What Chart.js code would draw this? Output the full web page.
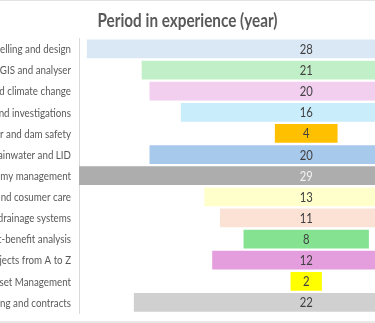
<!DOCTYPE html>
<html>
<head>
<meta charset="utf-8">
<script src="https://cdn.jsdelivr.net/npm/chart.js@4"></script>
<style>
html,body{margin:0;padding:0;background:#fff;overflow:hidden;}
#wrap{width:375px;height:320px;border-top:1px solid #e3e3e3;border-bottom:2px solid #e8e8e8;position:relative;}
canvas{display:block;}
</style>
</head>
<body>
<div id="wrap"><canvas id="c" width="375" height="320"></canvas></div>
<script>
const titleText = 'Period in experience (year)';
const categories = [
  "elling and design",
  "GIS and analyser",
  "d climate change",
  "nd investigations",
  "r and dam safety",
  "ainwater and LID",
  "my management",
  "nd cosumer care",
  "drainage systems",
  "t-benefit analysis",
  "ojects from A to Z",
  "set Management",
  "ing and contracts"
];
const years = [28, 21, 20, 16, 4, 20, 29, 13, 11, 8, 12, 2, 22];
const barColors = ["#DAE8F6","#C1F0C8","#F2CEEF","#CAEDFB","#FFC000","#A6C9EC","#ADADAD","#FFFFCC","#FBE2D5","#84E291","#E49EDD","#FFFF00","#D0D0D0"];
const labelColors = years.map((v,i)=> i===6 ? "#F2F2F2" : "#404040");

const FONT = 'Lato, "Open Sans", "Liberation Sans", Arial, sans-serif';

const narrowText = {
  id: 'narrowText',
  afterDraw(chart) {
    const ctx = chart.ctx;
    const ys = chart.scales.y;
    const xs = chart.scales.x;
    const area = chart.chartArea;
    ctx.save();
    // title
    ctx.font = 'bold 18px ' + FONT;
    ctx.fillStyle = '#595959';
    ctx.textBaseline = 'alphabetic';
    ctx.textAlign = 'center';
    const tw = ctx.measureText(titleText).width;
    const ts = 180 / tw;
    ctx.save();
    ctx.translate(187.5, 26);
    ctx.scale(ts, 1);
    ctx.fillText(titleText, 0, 0);
    ctx.restore();
    // category labels
    ctx.font = '11.5px ' + FONT;
    ctx.fillStyle = '#595959';
    ctx.textAlign = 'right';
    ctx.textBaseline = 'middle';
    const ref = ctx.measureText(categories[0]).width;
    const s = 71 / ref;
    categories.forEach((c, i) => {
      const y = ys.getPixelForTick(i);
      ctx.save();
      ctx.translate(area.left - 8, y + 0.5);
      ctx.scale(s, 1);
      ctx.fillText(c, 0, 0);
      ctx.restore();
    });
    // value labels
    const meta = chart.getDatasetMeta(0);
    const cx = xs.getPixelForValue(0);
    ctx.font = '12.5px ' + FONT;
    ctx.textAlign = 'center';
    meta.data.forEach((bar, i) => {
      ctx.fillStyle = labelColors[i];
      ctx.save();
      ctx.translate(cx, bar.y + 1);
      ctx.scale(0.9, 1);
      ctx.fillText(String(years[i]), 0, 0);
      ctx.restore();
    });
    ctx.restore();
  }
};

new Chart(document.getElementById('c'), {
  type: 'bar',
  data: {
    labels: categories,
    datasets: [{
      data: years.map(v => [-v/2, v/2]),
      backgroundColor: barColors,
      borderWidth: 0,
      borderSkipped: false,
      barPercentage: 0.885,
      categoryPercentage: 1.0
    }]
  },
  options: {
    indexAxis: 'y',
    responsive: false,
    animation: false,
    layout: { padding: { left: 0, right: 0, top: 37.4, bottom: 8 } },
    plugins: {
      legend: { display: false },
      tooltip: { enabled: false },
      title: { display: false }
    },
    scales: {
      x: {
        display: false,
        min: -14.5,
        max: 4.39
      },
      y: {
        grid: { display: false, drawTicks: false },
        border: { display: true, color: '#D9D9D9', width: 1 },
        ticks: { display: false },
        afterFit(scale) { scale.width = 79; }
      }
    }
  },
  plugins: [narrowText]
});
</script>
</body>
</html>
